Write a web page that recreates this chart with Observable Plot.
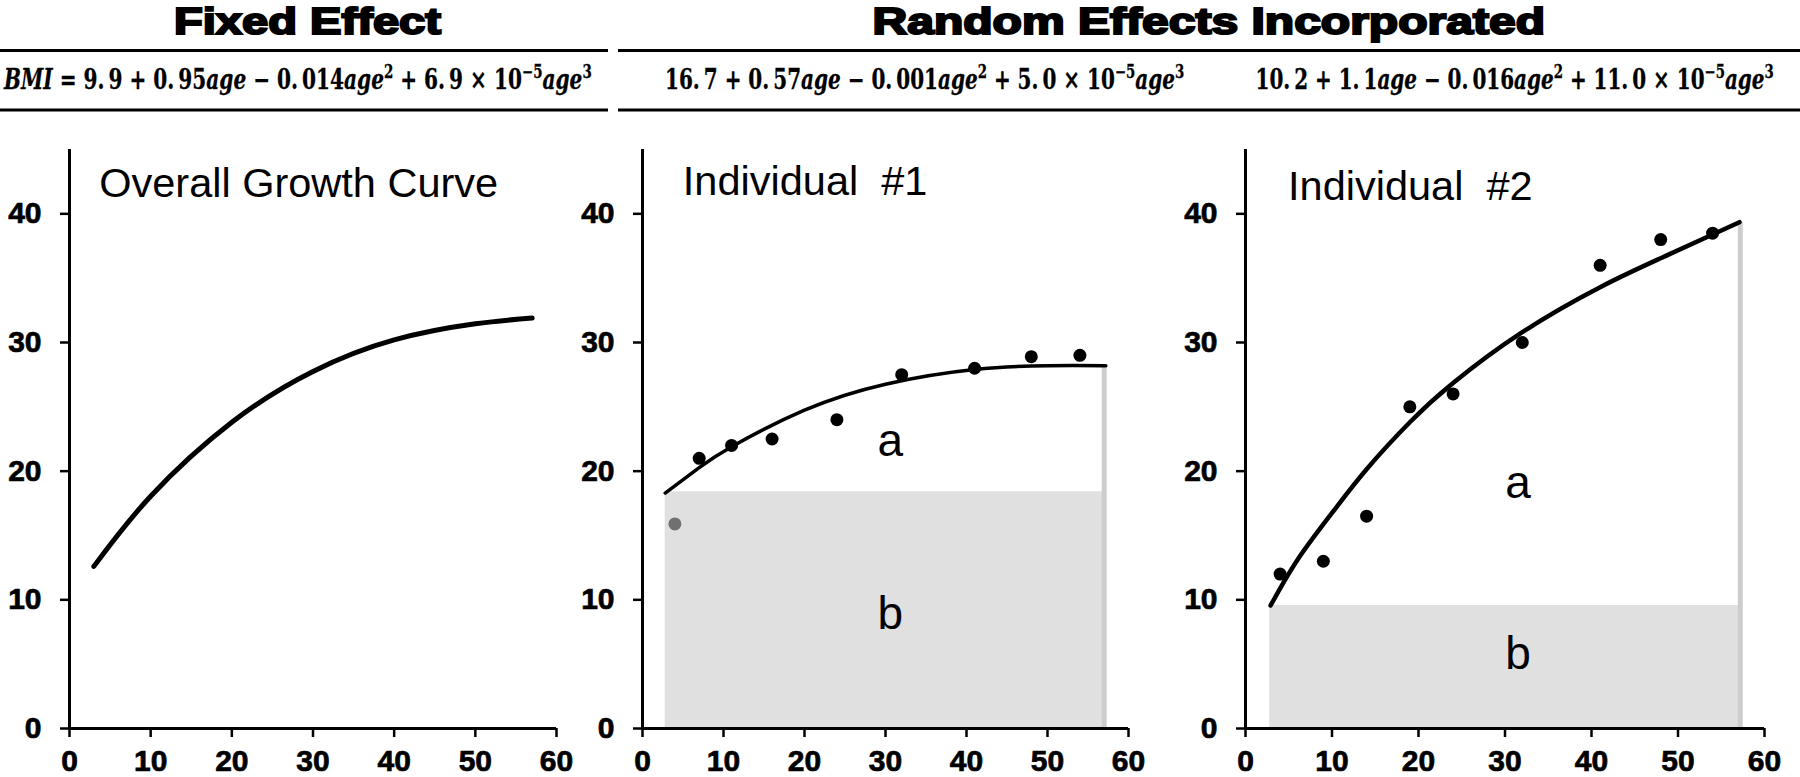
<!DOCTYPE html>
<html><head><meta charset="utf-8">
<script src="https://cdn.jsdelivr.net/npm/d3@7"></script>
<script src="https://cdn.jsdelivr.net/npm/@observablehq/plot@0.6"></script>
<style>
body{margin:0;background:#fff;}
#page{position:relative;width:1800px;height:777px;overflow:hidden;background:#fff;font-family:"Liberation Sans",Arial,sans-serif;}
#header{position:absolute;left:0;top:0;}
.panel{position:absolute;top:120px;}
.panel svg{overflow:visible;}
.panel g[aria-label$="tick label"] text{stroke:#000;stroke-width:0.7px;}
</style></head><body><div id="page"><svg id="header" width="1800" height="120"></svg></div>
<script>
// ---------- data ----------
const xTicks = [0, 10, 20, 30, 40, 50, 60];
const yTicks = [0, 10, 20, 30, 40];
const titles = ["Fixed Effect", "Random Effects Incorporated"];
const panelNames = ["Overall Growth Curve", "Individual  #1", "Individual  #2"];
const regionLabels = ["a", "b"];

// formulas: [text, kind]  kind: "" upright, "i" italic, "s" superscript
const formula0 = [["BMI","i"],[" = 9.\u20099 + 0.\u200995",""],["age","i"],[" \u2212 0.\u2009014",""],["age","i"],["2","s"],[" + 6.\u20099 \u00d7 10",""],["\u22125","s"],["age","i"],["3","s"]];
const formula1 = [["16.\u20097 + 0.\u200957",""],["age","i"],[" \u2212 0.\u2009001",""],["age","i"],["2","s"],[" + 5.\u20090 \u00d7 10",""],["\u22125","s"],["age","i"],["3","s"]];
const formula2 = [["10.\u20092 + 1.\u20091",""],["age","i"],[" \u2212 0.\u2009016",""],["age","i"],["2","s"],[" + 11.\u20090 \u00d7 10",""],["\u22125","s"],["age","i"],["3","s"]];

// Fixed effect overall curve
const fixedAge = [3, 10, 20, 30, 40, 50, 57];
const fixedBMI = [12.6, 18.05, 23.8, 27.75, 30.2, 31.45, 31.9];

// Individual #1
const ind1DotAge = [4, 7, 11, 16, 24, 32, 41, 48, 54];
const ind1DotBMI = [15.9, 21, 22, 22.5, 24, 27.5, 28, 28.9, 29];
const ind1CurveAge = [2.8, 7, 11, 20, 30, 41, 50, 57.2];
const ind1CurveBMI = [18.3, 20.27, 21.9, 24.74, 26.76, 27.9, 28.2, 28.2];
const ind1Intercept = 18.4;
const ind1Span = [2.8, 57];
const ind1LabelPos = [[30.6, 21.2], [30.6, 7.75]];

// Individual #2
const ind2DotAge = [4, 9, 14, 19, 24, 32, 41, 48, 54];
const ind2DotBMI = [12, 13, 16.5, 25, 26, 30, 36, 38, 38.5];
const ind2CurveAge = [2.9, 6, 10, 14, 19, 24, 32, 41, 48, 54, 57.1];
const ind2CurveBMI = [9.56, 13.1, 16.75, 20.15, 23.8, 26.85, 30.8, 34.3, 36.55, 38.4, 39.35];
const ind2Intercept = 9.56;
const ind2Span = [2.8, 57.2];
const ind2LabelPos = [[31.5, 17.9], [31.5, 4.6]];

// ---------- header ----------
const hdr = d3.select("#header");
function hline(x1, x2, y) {
  hdr.append("line").attr("x1", x1).attr("x2", x2).attr("y1", y).attr("y2", y)
    .attr("stroke", "#000").attr("stroke-width", 3);
}
hline(0, 608, 50.5); hline(0, 608, 110);
hline(618, 1800, 50.5); hline(618, 1800, 110);

function title(txt, x0, x1, y) {
  hdr.append("text").attr("x", x0).attr("y", y).text(txt)
    .attr("font-family", "Liberation Sans, Arial, sans-serif").attr("font-weight", "bold")
    .attr("font-size", 37).attr("stroke", "#000").attr("stroke-width", 2.1)
    .attr("textLength", x1 - x0).attr("lengthAdjust", "spacingAndGlyphs");
}
title(titles[0], 174, 441, 33.5);
title(titles[1], 872.5, 1545, 33.5);

function formula(segs, x0, x1, y) {
  const g = hdr.append("g");
  const t = g.append("text").attr("x", 0).attr("y", 0)
    .attr("font-family", "DejaVu Serif, Liberation Serif, serif").attr("font-weight", "bold")
    .attr("font-size", 27).attr("fill", "#000").attr("stroke", "#000").attr("stroke-width", 0.3);
  let raised = false;
  for (const [s, k] of segs) {
    const ts = t.append("tspan").text(s);
    if (k === "i") ts.attr("font-style", "italic");
    if (k === "s") { ts.attr("font-size", 18).attr("dy", raised ? 0 : -11); raised = true; }
    else { if (raised) ts.attr("dy", 11); raised = false; }
  }
  const w = t.node().getComputedTextLength();
  g.attr("transform", `translate(${x0},${y}) scale(${(x1 - x0) / w},1)`);
}
formula(formula0, 4, 592, 89);
formula(formula1, 665, 1184.5, 89);
formula(formula2, 1255.5, 1774, 89);

// ---------- panels ----------
const zip = (a, b) => a.map((v, i) => ({x: v, y: b[i]}));
const FONT = "Liberation Sans, Arial, sans-serif";

function makePanel(cfg) {
  const marks = [];
  if (cfg.intercept != null) {
    marks.push(Plot.rect([cfg.span], {x1: d => d[0], x2: d => d[1], y1: 0, y2: cfg.intercept, fill: "#e0e0e0"}));
    const endY = cfg.curve[cfg.curve.length - 1].y;
    marks.push(Plot.ruleX([cfg.span[1]], {y1: 0, y2: endY, stroke: "#cdcdcd", strokeWidth: 5}));
  }
  marks.push(Plot.ruleY([0], {x1: 0, x2: 60, stroke: "#000", strokeWidth: 3}));
  marks.push(Plot.ruleX([0], {y1: 0, y2: 45, stroke: "#000", strokeWidth: 3}));
  marks.push(Plot.axisX(xTicks, {tickSize: 9, tickPadding: 12, strokeWidth: 2.5, label: null, fontSize: 30, fontWeight: "bold"}));
  marks.push(Plot.axisY(yTicks, {tickSize: 9, tickPadding: 19, strokeWidth: 2.5, label: null, fontSize: 30, fontWeight: "bold"}));
  marks.push(Plot.line(cfg.curve, {x: "x", y: "y", curve: "natural", stroke: "#000", strokeWidth: cfg.curveW, strokeLinecap: "round"}));
  if (cfg.dots) {
    marks.push(Plot.dot(cfg.dots, {x: "x", y: "y", r: 6.5, stroke: null, fill: (d, i) => (cfg.grayFirst && i === 0 ? "#707070" : "#000")}));
  }
  marks.push(Plot.text([cfg.name], {x: cfg.namePos[0], y: cfg.namePos[1], text: d => d, textAnchor: "start", lineAnchor: "bottom", fontSize: 41.5, fontWeight: "normal", fill: "#000"}));
  if (cfg.labels) {
    marks.push(Plot.text(regionLabels, {x: (d, i) => cfg.labels[i][0], y: (d, i) => cfg.labels[i][1], text: d => d, textAnchor: "middle", lineAnchor: "bottom", fontSize: 46, fontWeight: "normal", fill: "#000"}));
  }
  const plot = Plot.plot({
    width: cfg.width, height: 657,
    marginLeft: cfg.ml, marginRight: cfg.mr, marginTop: 29, marginBottom: 49,
    x: {domain: [0, 60]}, y: {domain: [0, 45]},
    style: {fontFamily: FONT, fontSize: "30px", fontWeight: "bold", color: "#000", background: "transparent", overflow: "visible"},
    marks
  });
  const div = document.createElement("div");
  div.className = "panel";
  div.style.left = cfg.left + "px";
  div.appendChild(plot);
  document.getElementById("page").appendChild(div);
}

makePanel({left: 0, width: 590, ml: 69, mr: 34, curve: zip(fixedAge, fixedBMI), curveW: 5,
  name: panelNames[0], namePos: [3.66, 41.3]});
makePanel({left: 590, width: 590, ml: 52, mr: 52, curve: zip(ind1CurveAge, ind1CurveBMI), curveW: 3.5,
  dots: zip(ind1DotAge, ind1DotBMI), grayFirst: true, intercept: ind1Intercept, span: ind1Span,
  name: panelNames[1], namePos: [4.98, 41.5], labels: ind1LabelPos});
makePanel({left: 1180, width: 620, ml: 65, mr: 36, curve: zip(ind2CurveAge, ind2CurveBMI), curveW: 4.5,
  dots: zip(ind2DotAge, ind2DotBMI), intercept: ind2Intercept, span: ind2Span,
  name: panelNames[2], namePos: [4.92, 41.1], labels: ind2LabelPos});
</script></body></html>
